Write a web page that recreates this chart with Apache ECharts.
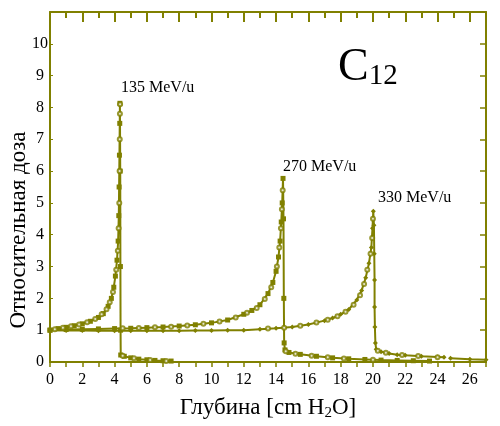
<!DOCTYPE html>
<html>
<head>
<meta charset="utf-8">
<script src="https://cdn.jsdelivr.net/npm/echarts@6/dist/echarts.min.js"></script>
<style>html,body{margin:0;padding:0;background:#fff}#c{width:500px;height:426px}</style>
</head>
<body>
<div id="c"></div>
<script>
// Depth [cm H2O], relative dose
const e135Line = [[0,1.0],[0.5,1.05],[1,1.09],[1.5,1.14],[2,1.2],[2.5,1.28],[3,1.4],[3.3,1.52],[3.6,1.75],[3.8,2.0],[3.95,2.35],[4.05,2.7],[4.15,3.2],[4.22,3.8],[4.26,4.6],[4.28,5.5],[4.3,6.5],[4.32,7.5],[4.33,8.13],[4.35,6.0],[4.36,3.0],[4.37,1.0],[4.38,0.22],[4.6,0.18],[5,0.13],[5.5,0.09],[6,0.07],[6.5,0.05],[7,0.04],[7.5,0.03]];
const e135Meas = [[0.3,1.03],[0.8,1.08],[1.3,1.12],[1.8,1.18],[2.3,1.25],[2.8,1.35],[3.2,1.5],[3.5,1.66],[3.7,1.88],[3.9,2.2],[4.1,2.9],[4.2,3.5],[4.25,4.2],[4.29,5.0],[4.31,6.0],[4.32,7.0],[4.33,7.8],[4.34,8.1],[4.5,0.2],[5.2,0.12],[6.2,0.06],[7.2,0.03]];
const e270Line = [[0,1.0],[1,1.02],[2,1.03],[3,1.04],[4,1.05],[5,1.06],[6,1.08],[7,1.1],[8,1.13],[9,1.17],[10,1.23],[11,1.32],[12,1.5],[12.5,1.62],[13,1.8],[13.5,2.15],[13.8,2.5],[14.0,2.85],[14.15,3.3],[14.25,3.8],[14.32,4.4],[14.38,5.0],[14.43,5.77],[14.46,4.5],[14.48,2.0],[14.5,0.6],[14.55,0.38],[14.8,0.3],[15.5,0.24],[16.5,0.18],[17.5,0.13],[18.5,0.1],[19.5,0.08],[20.5,0.06],[21.5,0.05],[22.5,0.04],[23.5,0.03]];
const e270Meas = [[4.5,1.06],[5.5,1.07],[6.5,1.09],[7.5,1.11],[8.5,1.15],[9.5,1.2],[10.5,1.27],[11.5,1.4],[12.2,1.55],[12.8,1.7],[13.3,1.98],[13.7,2.35],[14.05,3.0],[14.2,3.6],[14.3,4.2],[14.36,4.8],[14.41,5.4],[14.6,0.34],[15.2,0.26],[16.2,0.2],[17.2,0.15],[18.2,0.11],[20,0.07]];
const e330Line = [[0,1.0],[1,0.99],[2,0.99],[3,0.98],[4,0.98],[5,0.98],[6,0.98],[7,0.98],[8,0.98],[9,0.99],[10,0.99],[11,1.0],[12,1.0],[13,1.03],[14,1.06],[15,1.1],[16,1.18],[17,1.3],[17.5,1.38],[18,1.5],[18.5,1.65],[19,1.95],[19.3,2.25],[19.55,2.65],[19.75,3.1],[19.9,3.6],[19.97,4.2],[20.02,4.74],[20.06,4.3],[20.08,3.4],[20.1,2.58],[20.1,1.73],[20.12,1.1],[20.15,0.6],[20.2,0.4],[20.5,0.32],[21,0.27],[21.5,0.23],[22,0.21],[23,0.18],[24,0.16],[24.4,0.15]];
const e330Tail = [[24.8,0.12],[26,0.09],[27,0.07]];
const e330Meas = [[13.5,1.05],[14.5,1.08],[15.5,1.14],[16.5,1.24],[17.2,1.33],[17.8,1.44],[18.3,1.58],[18.8,1.8],[19.2,2.1],[19.45,2.45],[19.65,2.9],[19.85,3.4],[19.95,3.9],[20.0,4.5],[20.3,0.35],[20.8,0.29],[21.8,0.22],[22.8,0.19],[24,0.15]];
const xTicks = [0,2,4,6,8,10,12,14,16,18,20,22,24,26];
const yTicks = [0,1,2,3,4,5,6,7,8,9,10];
const energyLabels = ['135 MeV/u','270 MeV/u','330 MeV/u'];
const yTitle = 'Относительная доза';

const OLIVE = '#808000';
const FONT = 'Liberation Serif';
const chart = echarts.init(document.getElementById('c'), null, {renderer:'canvas'});

function lineSeries(data, sym) {
  return {type:'line', data, xAxisIndex:0, yAxisIndex:0, symbol:sym, symbolSize:5,
    showSymbol:true, lineStyle:{color:OLIVE, width:2}, itemStyle:{color:OLIVE}, animation:false, z:3};
}
function measSeries(data) {
  return {type:'scatter', data, xAxisIndex:0, yAxisIndex:0, symbol:'emptyCircle', symbolSize:4,
    itemStyle:{color:OLIVE, borderColor:OLIVE, borderWidth:1.5}, animation:false, z:4};
}

chart.setOption({
  backgroundColor:'#fff',
  animation:false,
  grid:{left:50, right:14, top:12, bottom:64, outerBoundsMode:'none', containLabel:false},
  xAxis:[{
    type:'value', min:0, max:27, interval:2, position:'bottom',
    axisLine:{show:true, onZero:false, lineStyle:{color:OLIVE, width:2}},
    axisTick:{show:true, inside:false, length:5, lineStyle:{color:OLIVE, width:1.5}},
    minorTick:{show:true, splitNumber:2, length:5, lineStyle:{color:OLIVE, width:1.5}},
    splitLine:{show:false},
    axisLabel:{color:'#000', fontFamily:FONT, fontSize:16, margin:10,
      formatter:v => xTicks.indexOf(v) >= 0 ? String(v) : ''},
    name:'Глубина [cm H{sub|2}O]', nameLocation:'middle', nameGap:33,
    nameTextStyle:{color:'#000', fontFamily:FONT, fontSize:23,
      rich:{sub:{fontFamily:FONT, fontSize:15, color:'#000', verticalAlign:'bottom', padding:[11,0,0,0]}}}
  },{
    type:'value', min:0, max:27, interval:2, position:'top',
    axisLine:{show:true, onZero:false, lineStyle:{color:OLIVE, width:2}},
    axisTick:{show:true, inside:true, length:10, lineStyle:{color:OLIVE, width:2}},
    minorTick:{show:true, splitNumber:2, length:6, lineStyle:{color:OLIVE, width:2}},
    splitLine:{show:false}, axisLabel:{show:false}
  }],
  yAxis:[{
    type:'value', min:0, max:11, interval:1, position:'left',
    axisLine:{show:true, onZero:false, lineStyle:{color:OLIVE, width:2}},
    axisTick:{show:true, inside:true, length:3, lineStyle:{color:OLIVE}},
    splitLine:{show:false},
    axisLabel:{color:'#000', fontFamily:FONT, fontSize:16, margin:10, align:'center',
      formatter:v => yTicks.indexOf(v) >= 0 ? String(v) : ''}
  },{
    type:'value', min:0, max:11, interval:1, position:'right',
    axisLine:{show:true, onZero:false, lineStyle:{color:OLIVE, width:2}},
    axisTick:{show:true, inside:true, length:6, lineStyle:{color:OLIVE, width:1.5}},
    splitLine:{show:false}, axisLabel:{show:false}
  }],
  graphic:[
    {type:'text', x:19, y:230, rotation:Math.PI/2,
      style:{text:yTitle, fill:'#000', font:'23px "Liberation Serif"', align:'center', verticalAlign:'middle'}},
    {type:'text', left:121, top:80, style:{text:energyLabels[0], fill:'#000', font:'16px "Liberation Serif"'}},
    {type:'text', left:283, top:159, style:{text:energyLabels[1], fill:'#000', font:'16px "Liberation Serif"'}},
    {type:'text', left:378, top:190, style:{text:energyLabels[2], fill:'#000', font:'16px "Liberation Serif"'}},
    {type:'text', left:338, top:45, style:{text:'{c|C}{s|12}', fill:'#000',
      rich:{c:{fontFamily:FONT, fontSize:46, fill:'#000', verticalAlign:'bottom'},
            s:{fontFamily:FONT, fontSize:29, fill:'#000', verticalAlign:'bottom', padding:[0,0,0,0]}}}}
  ],
  series:[
    lineSeries(e135Line, 'rect'), measSeries(e135Meas),
    lineSeries(e270Line, 'rect'), measSeries(e270Meas),
    lineSeries(e330Line, 'diamond'), measSeries(e330Meas),
    lineSeries(e330Tail, 'diamond'),
    {type:'line', data:[], xAxisIndex:1, yAxisIndex:1}
  ]
});
</script>
</body>
</html>
